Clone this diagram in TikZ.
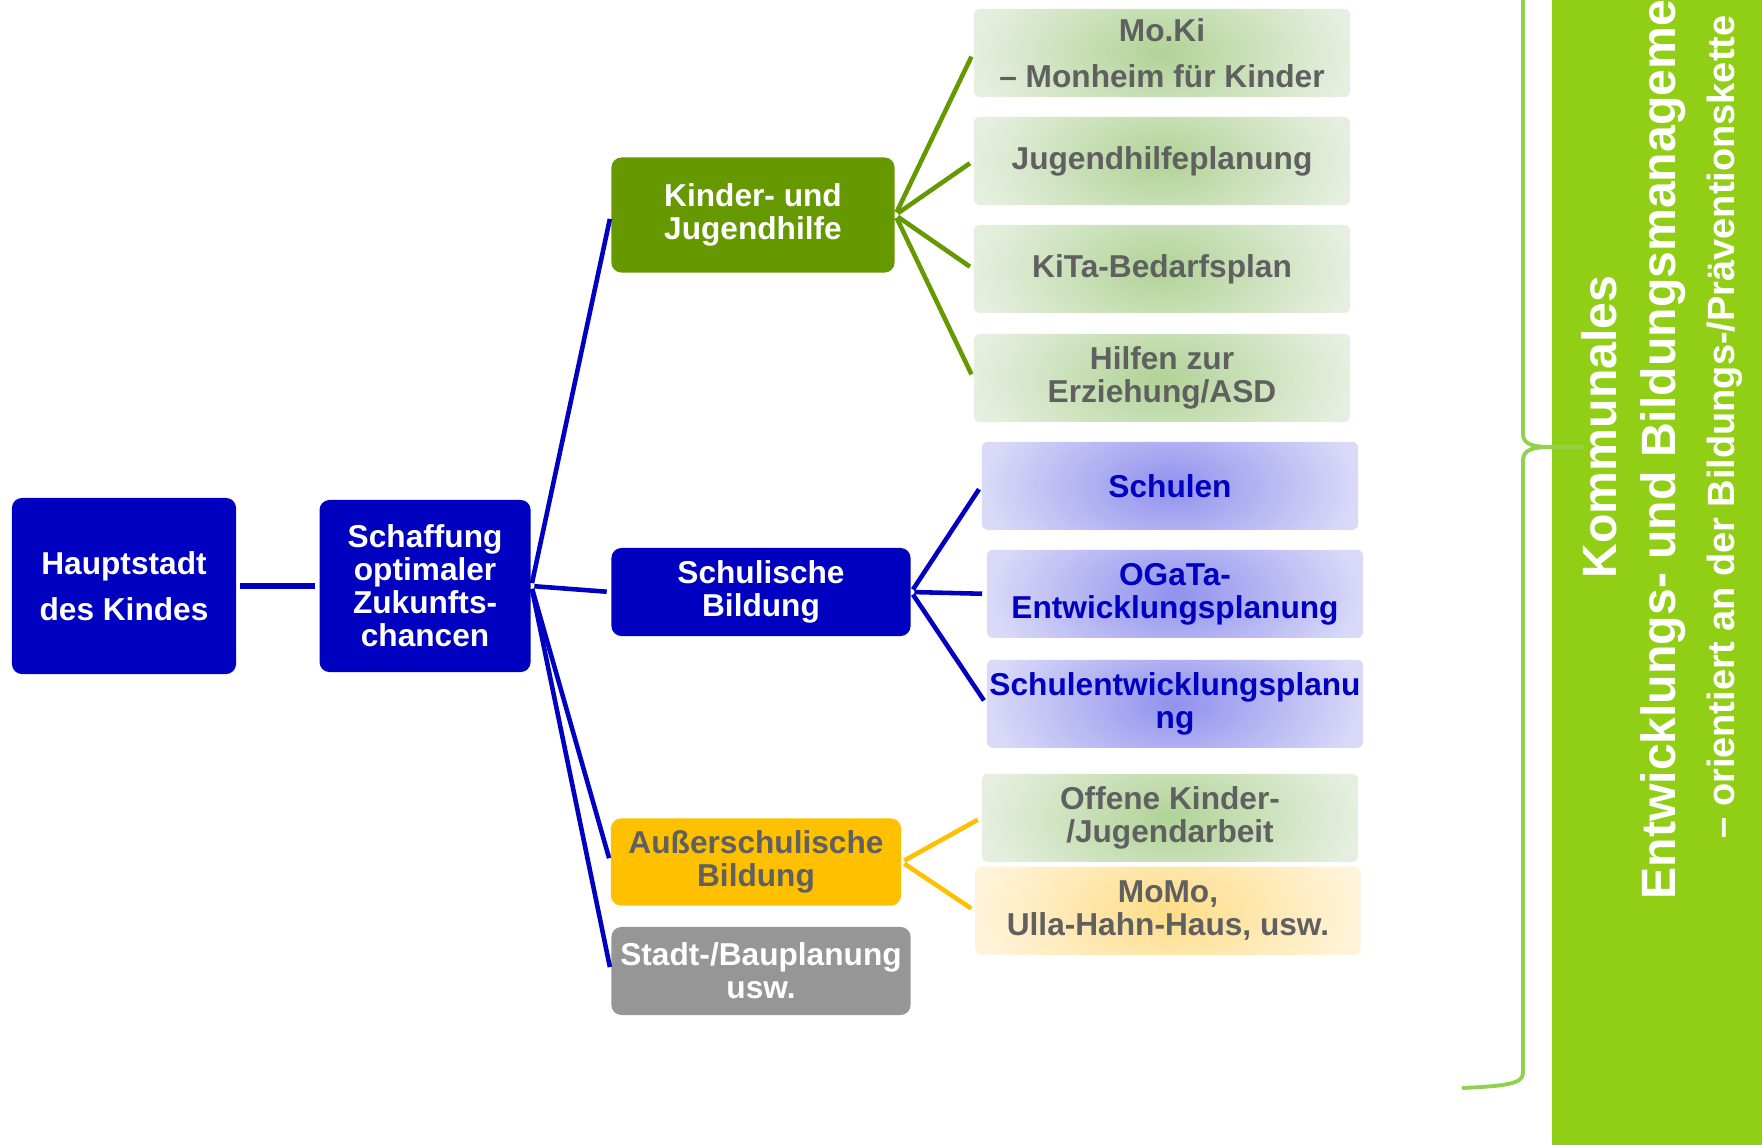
\documentclass[tikz,border=0pt]{standalone}
\usepackage{fontspec}
\setmainfont{Liberation Sans}
\usepackage{tikz}
\usetikzlibrary{positioning}
\usepackage{xcolor}
\definecolor{cityblue}{RGB}{0,0,192}
\definecolor{youthgreen}{RGB}{102,153,0}
\definecolor{extraamber}{RGB}{255,192,0}
\definecolor{plangray}{RGB}{150,150,150}
\definecolor{leaftext}{RGB}{96,96,96}
\definecolor{barlime}{RGB}{145,207,22}
\definecolor{bracelime}{RGB}{146,208,80}
\definecolor{gcore}{RGB}{176,211,150}
\definecolor{gedge}{RGB}{230,239,223}
\definecolor{bcore}{RGB}{145,145,238}
\definecolor{bedge}{RGB}{218,218,248}
\definecolor{ycore}{RGB}{254,221,135}
\definecolor{yedge}{RGB}{255,243,218}
\pgfdeclareradialshading{glowgreen}{\pgfpoint{0bp}{0bp}}{color(0bp)=(gcore); color(25bp)=(gedge); color(50bp)=(gedge)}
\pgfdeclareradialshading{glowblue}{\pgfpoint{0bp}{0bp}}{color(0bp)=(bcore); color(25bp)=(bedge); color(50bp)=(bedge)}
\pgfdeclareradialshading{glowamber}{\pgfpoint{0bp}{0bp}}{color(0bp)=(ycore); color(25bp)=(yedge); color(50bp)=(yedge)}
\newcommand{\treefont}{\fontsize{9}{9.4}\selectfont\bfseries}
\newcommand{\loosefont}{\fontsize{9}{13}\selectfont\bfseries}
\newcommand{\barfont}{\fontsize{13.7}{16.8}\selectfont\bfseries}
\newcommand{\barsubfont}{\fontsize{10.8}{16.8}\selectfont\bfseries}

\begin{document}
\begin{tikzpicture}[
  x=0.01cm, y=-0.01cm,
  node distance=0.2cm and 0.82cm,
  box/.style={rounded corners=0.1cm, inner sep=0.04cm, align=center, font=\treefont, text=white},
  bluebox/.style={box, fill=cityblue},
  greenbox/.style={box, fill=youthgreen},
  amberbox/.style={box, fill=extraamber, text=leaftext},
  graybox/.style={box, fill=plangray},
  leaf/.style={rounded corners=0.06cm, inner sep=0.02cm, minimum width=3.76cm, minimum height=0.88cm,
    align=center, font=\treefont, text=leaftext,
    path picture={\shade[shading=#1] ([yshift=-0.6cm]path picture bounding box.south west)
      rectangle ([yshift=0.6cm]path picture bounding box.north east);}},
  link/.style={line width=1.3pt, shorten <=0.03cm, shorten >=0.04cm}
]
\clip (0,0) rectangle (1762,1144);
\fill[white] (0,0) rectangle (1762,1144);

% Root and goal
\node[bluebox, font=\loosefont, minimum width=2.24cm, minimum height=1.76cm] (haupt) at (124,586) {Hauptstadt\\des Kindes};
\node[bluebox, minimum width=2.11cm, minimum height=1.72cm, right=of haupt] (schaffung) {Schaffung\\optimaler\\Zukunfts-\\chancen};

% Middle column
\node[greenbox, minimum width=2.83cm, minimum height=1.15cm] (kinder) at (753,215) {Kinder- und\\Jugendhilfe};
\node[bluebox, minimum width=2.99cm, minimum height=0.88cm] (schulisch) at (761,592) {Schulische\\Bildung};
\node[amberbox, minimum width=2.90cm, minimum height=0.87cm] (ausser) at (756,862) {Außerschulische\\Bildung};
\node[graybox, minimum width=2.99cm, minimum height=0.88cm, below=of ausser, xshift=0.05cm] (stadt) {Stadt-/Bauplanung\\usw.};

% Right column
\begin{scope}[node distance=0.185cm]
\node[leaf=glowgreen, font=\loosefont] (moki) at (1162,53) {Mo.Ki\\– Monheim für Kinder};
\node[leaf=glowgreen, below=of moki] (jhp) {Jugendhilfeplanung};
\node[leaf=glowgreen, below=of jhp] (kita) {KiTa-Bedarfsplan};
\node[leaf=glowgreen, below=0.195cm of kita] (hilfen) {Hilfen zur\\Erziehung/ASD};
\node[leaf=glowblue, text=cityblue, below=of hilfen, xshift=0.08cm] (schulen) {Schulen};
\node[leaf=glowblue, text=cityblue, below=of schulen, xshift=0.05cm] (ogata) {OGaTa-\\Entwicklungsplanung};
\node[leaf=glowblue, text=cityblue, below=0.205cm of ogata] (sep) {Schulentwicklungsplanu\\ng};
\node[leaf=glowgreen, below=0.245cm of sep, xshift=-0.05cm] (offene) {Offene Kinder-\\/Jugendarbeit};
\node[leaf=glowamber, minimum width=3.85cm, below=0.035cm of offene, xshift=-0.02cm] (momo) {MoMo,\\Ulla-Hahn-Haus, usw.};
\end{scope}

% Connectors
\draw[link, cityblue, line width=1.5pt] (haupt) -- (schaffung);
\foreach \t in {kinder, schulisch, ausser, stadt}
  \draw[link, cityblue] (schaffung.east) -- (\t.west);
\foreach \t in {moki, jhp, kita, hilfen}
  \draw[link, youthgreen] (kinder.east) -- (\t.west);
\foreach \t in {schulen, ogata, sep}
  \draw[link, cityblue] (schulisch.east) -- (\t.west);
\foreach \t in {offene, momo}
  \draw[link, extraamber] (ausser.east) -- (\t.west);

% Side bar with brace
\fill[barlime] (1552,-10) rectangle (1772,1154);
\coordinate (bracetop) at (1523,-10);
\coordinate (bracetip) at (1584,447);
\coordinate (braceend) at (1462,1088);
\draw[bracelime, line width=1.1pt] (bracetop) -- (1523,434) .. controls (1523,445) and (1535,447) .. (1550,447) -- (bracetip);
\draw[bracelime, line width=1.1pt] (1550,447) .. controls (1535,447) and (1523,449) .. (1523,460) -- (1523,1073) .. controls (1523,1084) and (1505,1086) .. (braceend);
\node[rotate=90, align=center, text=white, font=\barfont] (bartext) at (1662,427)
  {Kommunales\\Entwicklungs- und Bildungsmanagement\\{\barsubfont – orientiert an der Bildungs-/Präventionskette}};
\end{tikzpicture}
\end{document}
